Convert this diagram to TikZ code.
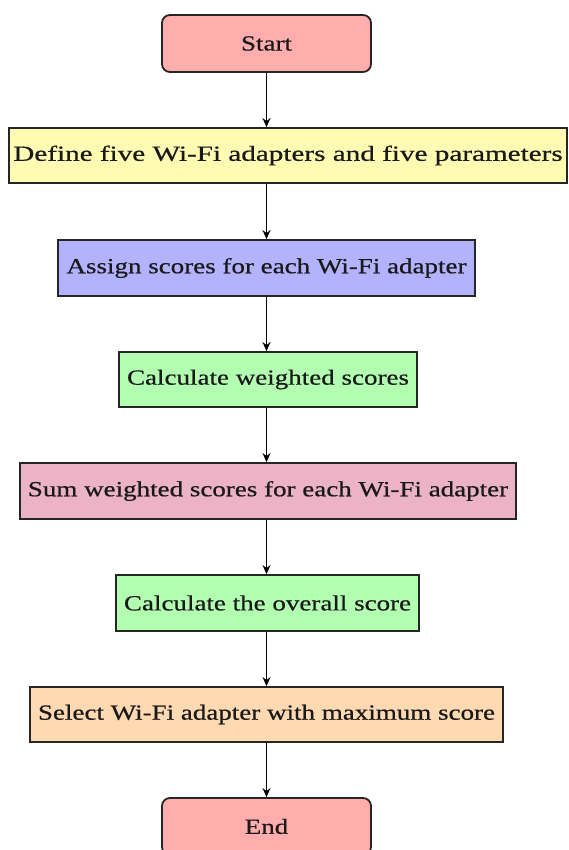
\documentclass[tikz,border=0pt]{standalone}
\usepackage{fontspec}
\setmainfont[FakeStretch=1.25,FakeBold=0.6]{Liberation Serif}
\newfontfamily\widefont[FakeStretch=1.35,FakeBold=0.6]{Liberation Serif}
\usetikzlibrary{arrows.meta}
\begin{document}
\begin{tikzpicture}[x=1pt,y=-1pt,
  box/.style={draw=black!85, line width=1.8pt, rectangle, inner sep=0pt,
    font=\fontsize{21.6}{24}\selectfont, text=black!90},
  terminal/.style={box, rounded corners=8pt, fill=red!32},
  flow/.style={draw=black, line width=1.8pt, -{Stealth[length=9pt,width=8pt]}}]
\useasboundingbox (0,0) rectangle (569,850);
\fill[white] (0,0) rectangle (569,850);

\node[terminal, minimum width=209pt, minimum height=57pt] (start) at (266.5,43.5) {Start};
\node[box, fill=yellow!30, minimum width=558pt, minimum height=55pt, font=\widefont\fontsize{21.6}{24}\selectfont] (define) at (288,155.5) {Define five Wi-Fi adapters and five parameters};
\node[box, fill=blue!30, minimum width=417pt, minimum height=56pt] (assign) at (266.5,268) {Assign scores for each Wi-Fi adapter};
\node[box, fill=green!30, minimum width=298pt, minimum height=55pt] (calcw) at (268,379.5) {Calculate weighted scores};
\node[box, fill=purple!30, minimum width=496pt, minimum height=56pt] (sum) at (268,491) {Sum weighted scores for each Wi-Fi adapter};
\node[box, fill=green!30, minimum width=303pt, minimum height=56pt] (calco) at (267.5,603) {Calculate the overall score};
\node[box, fill=orange!30, minimum width=473pt, minimum height=55pt] (select) at (266.5,714.5) {Select Wi-Fi adapter with maximum score};
\node[terminal, minimum width=209pt, minimum height=57pt] (end) at (266.5,826.5) {End};

\draw[flow] (start.south) -- (start.south |- define.north);
\draw[flow] (start.south |- define.south) -- (assign.north);
\draw[flow] (assign.south) -- (assign.south |- calcw.north);
\draw[flow] (assign.south |- calcw.south) -- (assign.south |- sum.north);
\draw[flow] (assign.south |- sum.south) -- (assign.south |- calco.north);
\draw[flow] (assign.south |- calco.south) -- (select.north);
\draw[flow] (select.south) -- (end.north);
\end{tikzpicture}
\end{document}
